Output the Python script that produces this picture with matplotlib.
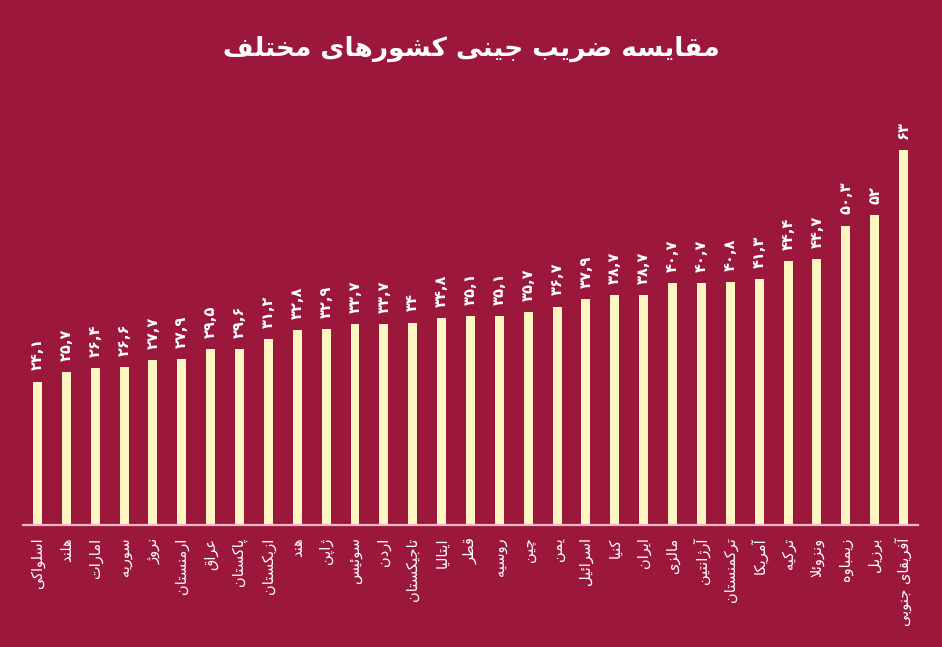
import matplotlib
matplotlib.use("Agg")
import matplotlib.pyplot as plt

# data
countries = ["اسلواکی", "هلند", "امارات", "سوریه", "نروژ", "ارمنستان", "عراق",
             "پاکستان", "ازبکستان", "هند", "ژاپن", "سوئیس", "اردن", "تاجیکستان",
             "ایتالیا", "قطر", "روسیه", "چین", "یمن", "اسرائیل", "کنیا", "ایران",
             "مالزی", "آرژانتین", "ترکمنستان", "آمریکا", "ترکیه", "ونزوئلا",
             "زیمباوه", "برزیل", "آفریقای جنوبی"]
gini = [24.1, 25.7, 26.4, 26.6, 27.7, 27.9, 29.5, 29.6, 31.2, 32.8, 32.9,
        33.7, 33.7, 34.0, 34.8, 35.1, 35.1, 35.7, 36.7, 37.9, 38.7, 38.7,
        40.7, 40.7, 40.8, 41.3, 44.4, 44.7, 50.3, 52.0, 63.0]
title = "مقایسه ضریب جینی کشورهای مختلف"

BG = "#9c173c"
BAR = "#fff6c2"
LINE = "#f2b9c6"

# --- minimal persian shaping (matplotlib has no bidi / joining) ---
# letter: (isolated, final, initial, medial); 2-tuple = joins only to the right
FORMS = {
    "ا": (0xFE8D, 0xFE8E), "آ": (0xFE81, 0xFE82), "د": (0xFEA9, 0xFEAA),
    "ذ": (0xFEAB, 0xFEAC), "ر": (0xFEAD, 0xFEAE), "ز": (0xFEAF, 0xFEB0),
    "ژ": (0xFB8A, 0xFB8B), "و": (0xFEED, 0xFEEE),
    "ب": (0xFE8F, 0xFE90, 0xFE91, 0xFE92), "پ": (0xFB56, 0xFB57, 0xFB58, 0xFB59),
    "ت": (0xFE95, 0xFE96, 0xFE97, 0xFE98), "ج": (0xFE9D, 0xFE9E, 0xFE9F, 0xFEA0),
    "چ": (0xFB7A, 0xFB7B, 0xFB7C, 0xFB7D), "خ": (0xFEA5, 0xFEA6, 0xFEA7, 0xFEA8),
    "س": (0xFEB1, 0xFEB2, 0xFEB3, 0xFEB4), "ش": (0xFEB5, 0xFEB6, 0xFEB7, 0xFEB8),
    "ض": (0xFEBD, 0xFEBE, 0xFEBF, 0xFEC0), "ط": (0xFEC1, 0xFEC2, 0xFEC3, 0xFEC4),
    "ع": (0xFEC9, 0xFECA, 0xFECB, 0xFECC), "ف": (0xFED1, 0xFED2, 0xFED3, 0xFED4),
    "ق": (0xFED5, 0xFED6, 0xFED7, 0xFED8), "ک": (0xFB8E, 0xFB8F, 0xFB90, 0xFB91),
    "ل": (0xFEDD, 0xFEDE, 0xFEDF, 0xFEE0), "م": (0xFEE1, 0xFEE2, 0xFEE3, 0xFEE4),
    "ن": (0xFEE5, 0xFEE6, 0xFEE7, 0xFEE8), "ه": (0xFEE9, 0xFEEA, 0xFEEB, 0xFEEC),
    "ی": (0xFBFC, 0xFBFD, 0xFBFE, 0xFBFF), "ئ": (0xFE89, 0xFE8A, 0xFE8B, 0xFE8C),
}


def fa(text):
    # lam + alef ligature first
    chars = []
    i = 0
    while i < len(text):
        if text[i] == "ل" and i + 1 < len(text) and text[i + 1] == "ا":
            chars.append("لا")
            i += 2
        else:
            chars.append(text[i])
            i += 1

    def joins_next(c):
        return c in FORMS and len(FORMS[c]) == 4

    out = []
    for k, c in enumerate(chars):
        prev = chars[k - 1] if k > 0 else None
        nxt = chars[k + 1] if k + 1 < len(chars) else None
        p = prev is not None and joins_next(prev)
        if c == "لا":
            out.append(chr(0xFEFC if p else 0xFEFB))
            continue
        if c not in FORMS:
            out.append(c)
            continue
        f = FORMS[c]
        n = joins_next(c) and nxt is not None and (nxt in FORMS or nxt == "لا")
        if p and n:
            out.append(chr(f[3]))
        elif p:
            out.append(chr(f[1]))
        elif n:
            out.append(chr(f[2]))
        else:
            out.append(chr(f[0]))
    return "".join(out)[::-1]


def fa_num(v):
    s = ("%g" % v).replace(".", ",")
    return s.translate(str.maketrans("0123456789", "۰۱۲۳۴۵۶۷۸۹"))


fig = plt.figure(figsize=(9.42, 6.47), dpi=100, facecolor=BG)
ax = fig.add_axes([0.0244, 0.1886, 0.9501, 0.644])
ax.set_facecolor(BG)

x = list(range(len(gini)))
bars = ax.bar(x, gini, width=0.31, color=BAR, zorder=2)

for b, v in zip(bars, gini):
    ax.annotate(fa_num(v), (b.get_x() + b.get_width() / 2, v),
                xytext=(0, 8), textcoords="offset points",
                rotation=90, ha="center", va="bottom",
                color="white", fontsize=10.5, fontweight="bold")

ax.set_xlim(-0.5, len(gini) - 0.5)
ax.set_ylim(0, 70)
ax.set_xticks(x)
ax.set_xticklabels([fa(c) for c in countries], rotation=90,
                   color="white", fontsize=10.5)
ax.tick_params(axis="x", length=0, pad=9)
ax.set_yticks([])
for s in ["top", "right", "left"]:
    ax.spines[s].set_visible(False)
ax.spines["bottom"].set_color(LINE)
ax.spines["bottom"].set_linewidth(1.6)

fig.text(0.5, 0.925, fa(title), ha="center", va="center",
         color="white", fontsize=19, fontweight="bold")

fig.savefig("out.png", dpi=100, facecolor=BG)
